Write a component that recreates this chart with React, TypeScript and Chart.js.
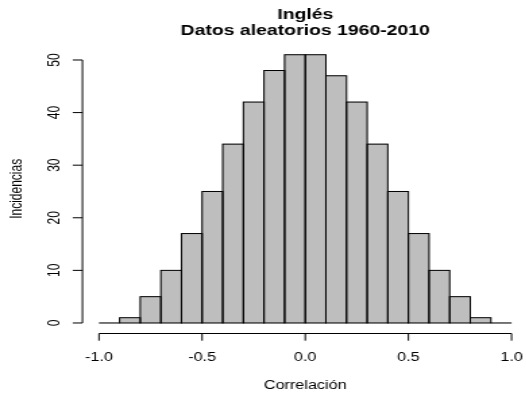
import { useEffect, useRef } from "react";
import { Chart, registerables } from "chart.js";

Chart.register(...registerables);

// ---- chart content ----
const mainTitle = ["Inglés", "Datos aleatorios 1960-2010"];
const xAxisTitle = "Correlación";
const yAxisTitle = "Incidencias";

// histogram bin edges and counts
const breaks = [-1.0, -0.9, -0.8, -0.7, -0.6, -0.5, -0.4, -0.3, -0.2, -0.1, 0.0, 0.1, 0.2, 0.3, 0.4, 0.5, 0.6, 0.7, 0.8, 0.9, 1.0];
const counts = [0, 1, 5, 10, 17, 25, 34, 42, 48, 51, 51, 47, 42, 34, 25, 17, 10, 5, 1, 0];

const xTickValues = [-1.0, -0.5, 0.0, 0.5, 1.0];
const xTickLabels = ["-1.0", "-0.5", "0.0", "0.5", "1.0"];
const yTickValues = [0, 10, 20, 30, 40, 50];
const yTickLabels = ["0", "10", "20", "30", "40", "50"];

// ---- styling / layout ----
const STRETCH = 1.35; // horizontal stretch of the reference image
const CANVAS_W = 392;
const CANVAS_H = 398;
const FONT = '"Liberation Sans", Arial, Helvetica, sans-serif';

const rStylePlugin = {
  id: "rStyle",
  afterDraw(chart: any) {
    const ctx = chart.ctx as CanvasRenderingContext2D;
    const xs = chart.scales.x;
    const ys = chart.scales.y;
    const area = chart.chartArea;
    ctx.save();

    // bar outlines (R draws each rect outline centred on its edges)
    ctx.strokeStyle = "#000";
    ctx.lineWidth = 1;
    const meta = chart.getDatasetMeta(0);
    meta.data.forEach((el: any) => {
      const p = el.getProps(["x", "y", "base", "width"], true);
      const l = p.x - p.width / 2;
      const top = Math.min(p.y, p.base);
      const h = Math.abs(p.base - p.y);
      if (h < 0.01) {
        ctx.beginPath();
        ctx.moveTo(l, p.base);
        ctx.lineTo(l + p.width, p.base);
        ctx.stroke();
      } else {
        ctx.strokeRect(l, top, p.width, h);
      }
    });

    // y axis
    const left = area.left;
    const tick = 7.2;
    ctx.beginPath();
    const yTicks = ys.ticks;
    ctx.moveTo(left, ys.getPixelForValue(yTicks[0].value));
    ctx.lineTo(left, ys.getPixelForValue(yTicks[yTicks.length - 1].value));
    yTicks.forEach((t: any) => {
      const py = ys.getPixelForValue(t.value);
      ctx.moveTo(left, py);
      ctx.lineTo(left - tick, py);
    });
    ctx.stroke();

    ctx.fillStyle = "#000";
    ctx.font = `12px ${FONT}`;
    ctx.textAlign = "center";
    ctx.textBaseline = "alphabetic";
    yTicks.forEach((t: any, i: number) => {
      const py = ys.getPixelForValue(t.value);
      ctx.save();
      ctx.translate(left - 16.7, py);
      ctx.rotate(-Math.PI / 2);
      ctx.fillText(yTickLabels[i], 0, 0);
      ctx.restore();
    });

    // y axis title
    ctx.save();
    ctx.translate(16.3, (area.top + area.bottom) / 2);
    ctx.rotate(-Math.PI / 2);
    ctx.fillText(yAxisTitle, 0, 0);
    ctx.restore();

    // x axis
    const by = 333.5;
    const xTicks = xs.ticks;
    ctx.beginPath();
    ctx.moveTo(xs.getPixelForValue(xTicks[0].value), by);
    ctx.lineTo(xs.getPixelForValue(xTicks[xTicks.length - 1].value), by);
    xTicks.forEach((t: any) => {
      const px = xs.getPixelForValue(t.value);
      ctx.moveTo(px, by);
      ctx.lineTo(px, by + tick);
    });
    ctx.stroke();

    xTicks.forEach((t: any, i: number) => {
      const px = xs.getPixelForValue(t.value);
      ctx.fillText(xTickLabels[i], px, 361);
    });

    const cx = (area.left + area.right) / 2;
    ctx.fillText(xAxisTitle, cx, 389);

    // main title
    ctx.font = `bold 14.4px ${FONT}`;
    ctx.fillText(mainTitle[0], cx, 18.5);
    ctx.fillText(mainTitle[1], cx, 35);

    ctx.restore();
  },
};

export default function App() {
  const ref = useRef<HTMLCanvasElement | null>(null);

  useEffect(() => {
    if (!ref.current) return;
    const centers = counts.map((_, i) => (breaks[i] + breaks[i + 1]) / 2);
    const xSpan = breaks[breaks.length - 1] - breaks[0];
    const yMaxCount = Math.max(...counts);
    const chart = new Chart(ref.current, {
      type: "bar",
      data: {
        datasets: [
          {
            data: centers.map((c, i) => ({ x: c, y: counts[i] })),
            backgroundColor: "#BEBEBE",
            borderWidth: 0,
            barPercentage: 1,
            categoryPercentage: 1,
          },
        ],
      },
      options: {
        animation: false,
        responsive: false,
        maintainAspectRatio: false,
        devicePixelRatio: 1,
        layout: { padding: { left: 61.1, right: 0.7, top: 44, bottom: 64.3 } },
        plugins: {
          legend: { display: false },
          title: { display: false },
          tooltip: { enabled: false },
        },
        scales: {
          x: {
            type: "linear",
            display: false,
            offset: false,
            min: breaks[0] - 0.04 * xSpan,
            max: breaks[breaks.length - 1] + 0.04 * xSpan,
            afterBuildTicks: (scale: any) => {
              scale.ticks = xTickValues.map((v) => ({ value: v }));
            },
          },
          y: {
            type: "linear",
            display: false,
            min: -0.04 * yMaxCount,
            max: yMaxCount * 1.04,
            afterBuildTicks: (scale: any) => {
              scale.ticks = yTickValues.map((v) => ({ value: v }));
            },
          },
        },
      } as any,
      plugins: [rStylePlugin],
    });
    return () => chart.destroy();
  }, []);

  return (
    <div
      style={{
        position: "absolute",
        left: 0,
        top: 0,
        width: 526,
        height: 398,
        overflow: "hidden",
        background: "#fff",
      }}
    >
      <canvas
        ref={ref}
        width={CANVAS_W}
        height={CANVAS_H}
        style={{ width: `${CANVAS_W * STRETCH}px`, height: `${CANVAS_H}px`, display: "block" }}
      />
    </div>
  );
}
